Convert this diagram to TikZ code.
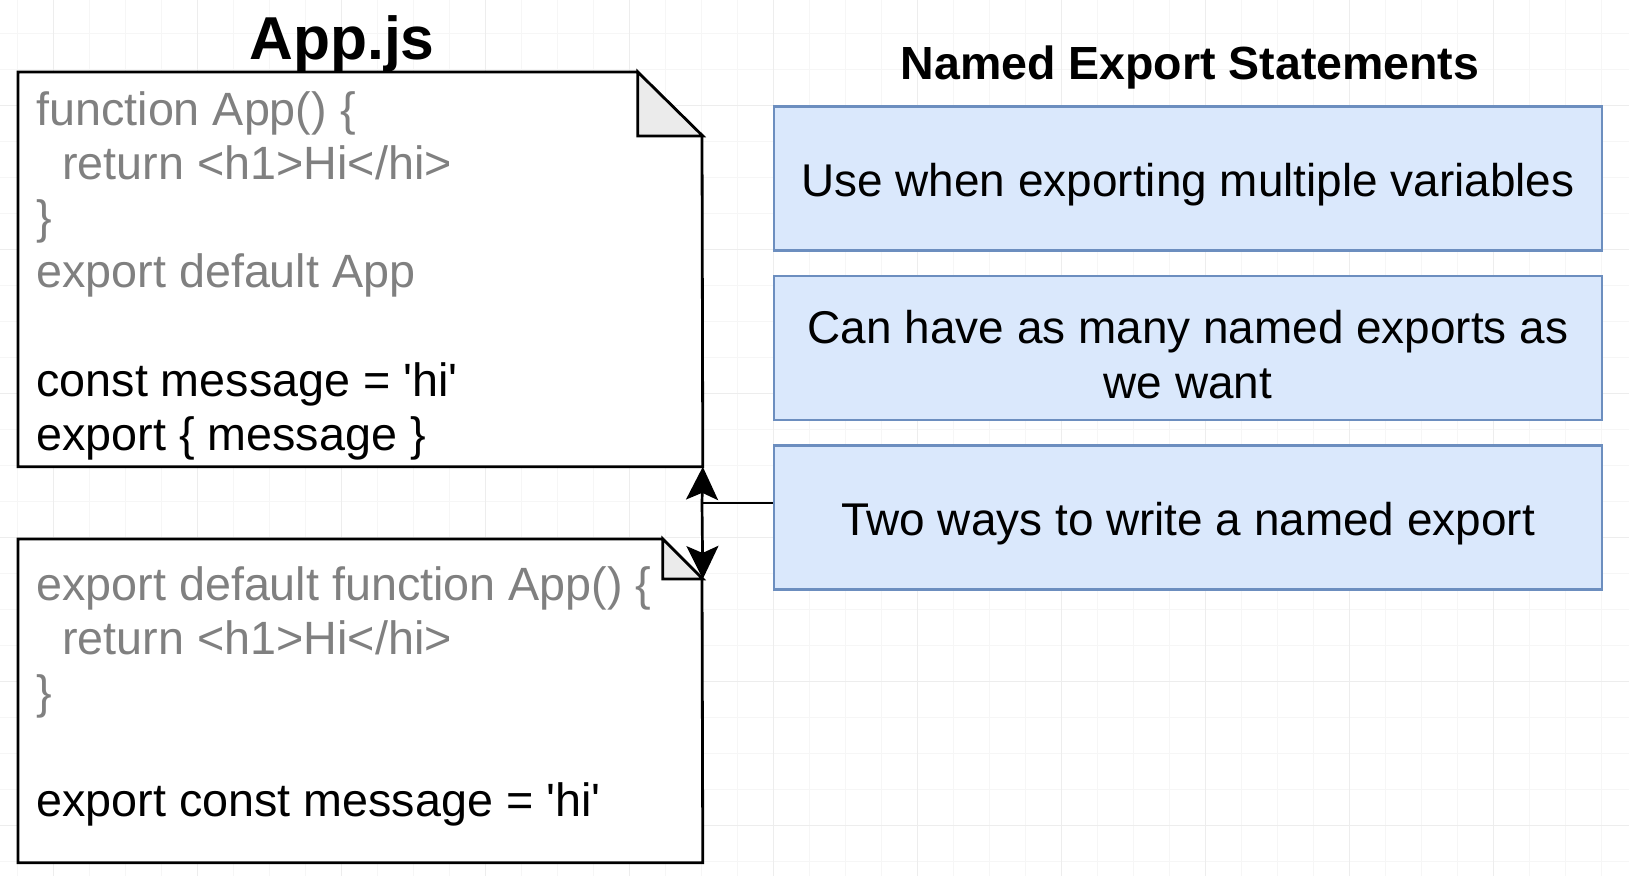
\documentclass[tikz,border=0pt]{standalone}
\usepackage{fontspec}
\setmainfont{Liberation Sans}
\usetikzlibrary{arrows.meta,calc}
\definecolor{codegray}{RGB}{128,128,128}
\definecolor{boxfill}{HTML}{DAE8FC}
\definecolor{boxline}{HTML}{6C8EBF}
\definecolor{foldfill}{HTML}{EBEBEB}
\definecolor{gridminor}{HTML}{F6F6F6}
\definecolor{gridmajor}{HTML}{EDEDED}
\begin{document}
\begin{tikzpicture}[x=0.5pt,y=-0.5pt,
  codeline/.style={anchor=base west, inner sep=0pt, font=\fontsize{23.35pt}{27.1pt}\selectfont},
  graycode/.style={codeline, text=codegray},
  infobox/.style={draw=boxline, fill=boxfill, line width=1.4pt, minimum width=414pt, minimum height=72pt, inner sep=0pt},
  boxtext/.style={inner sep=0pt, align=center, yshift=-3.3pt, font=\fontsize{22.95pt}{27.1pt}\selectfont},
  notebox/.style={inner sep=0pt},
  outline/.style={draw=black, line width=1.4pt, line join=miter},
  link/.style={line width=1.35pt},
  conn/.style={link, -{Stealth[length=16.5pt,width=16pt,inset=3.5pt]}}
]
\fill[white] (0,0) rectangle (1629,876);
\useasboundingbox (0,0) rectangle (1629,876);
% grid
\foreach \x in {17.3,53.3,...,1629} \draw[gridminor, line width=0.5pt] (\x,0) -- (\x,876);
\foreach \y in {34,70,...,876} \draw[gridminor, line width=0.5pt] (0,\y) -- (1629,\y);
\foreach \x in {53.3,197.3,...,1629} \draw[gridmajor, line width=0.5pt] (\x,0) -- (\x,876);
\foreach \y in {106,250,...,876} \draw[gridmajor, line width=0.5pt] (0,\y) -- (1629,\y);

% titles
\node[anchor=base, inner sep=0pt, font=\fontsize{30.3pt}{31pt}\selectfont\bfseries] (title) at (342,60) {App.js};
\node[anchor=base, inner sep=0pt, font=\fontsize{23.25pt}{27pt}\selectfont\bfseries] (heading) at (1190,80) {Named Export Statements};

% note 1
\node[notebox, minimum width=342pt, minimum height=197pt, anchor=north west] (note1) at (18,72) {};
\draw[outline, fill=white] (note1.north west) -- ++(619,0) -- ++(65,64) -- (note1.south east) -- (note1.south west) -- cycle;
\draw[outline, fill=foldfill] ($(note1.north east)+(-65,0)$) -- ++(0,64) -- ++(65,0) -- cycle;
\node[graycode] (n1a) at (36,126) {function App() \{};
\node[graycode] (n1b) at (62,180) {return <h1>Hi</hi>};
\node[graycode] (n1c) at (36,234) {\}};
\node[graycode] (n1d) at (36,288) {export default App};
\node[codeline] (n1e) at (36,397) {const message = \textquotesingle hi\textquotesingle};
\node[codeline] (n1f) at (36,451) {export \{ message \}};

% note 2
\node[notebox, minimum width=342pt, minimum height=161.5pt, anchor=north west] (note2) at (18,539) {};
\draw[outline, fill=white] (note2.north west) -- ++(644,0) -- ++(40,40) -- (note2.south east) -- (note2.south west) -- cycle;
\draw[outline, fill=foldfill] ($(note2.north east)+(-40,0)$) -- ++(0,40) -- ++(40,0) -- cycle;
\coordinate (fold2) at ($(note2.north east)+(0,40)$);
\node[graycode] (n2a) at (36,601) {export default function App() \{};
\node[graycode] (n2b) at (62,655) {return <h1>Hi</hi>};
\node[graycode] (n2c) at (36,709) {\}};
\node[codeline] (n2d) at (36,817) {export const message = \textquotesingle hi\textquotesingle};

% info boxes
\node[infobox] (box1) at (1188,178.5) {};
\node[boxtext] (box1t) at (box1.center) {Use when exporting multiple variables};
\node[infobox] (box2) at (1188,348) {};
\node[boxtext] (box2t) at (box2.center) {Can have as many named exports as\\we want};
\node[infobox] (box3) at (1188,517.5) {};
\node[boxtext] (box3t) at (box3.center) {Two ways to write a named export};

% connectors
\coordinate (jn) at (702,503);
\draw[link] (box3.west |- jn) -- (jn);
\draw[conn] (jn) -- (note1.south east);
\draw[conn] (jn) -- (fold2);
\end{tikzpicture}
\end{document}
